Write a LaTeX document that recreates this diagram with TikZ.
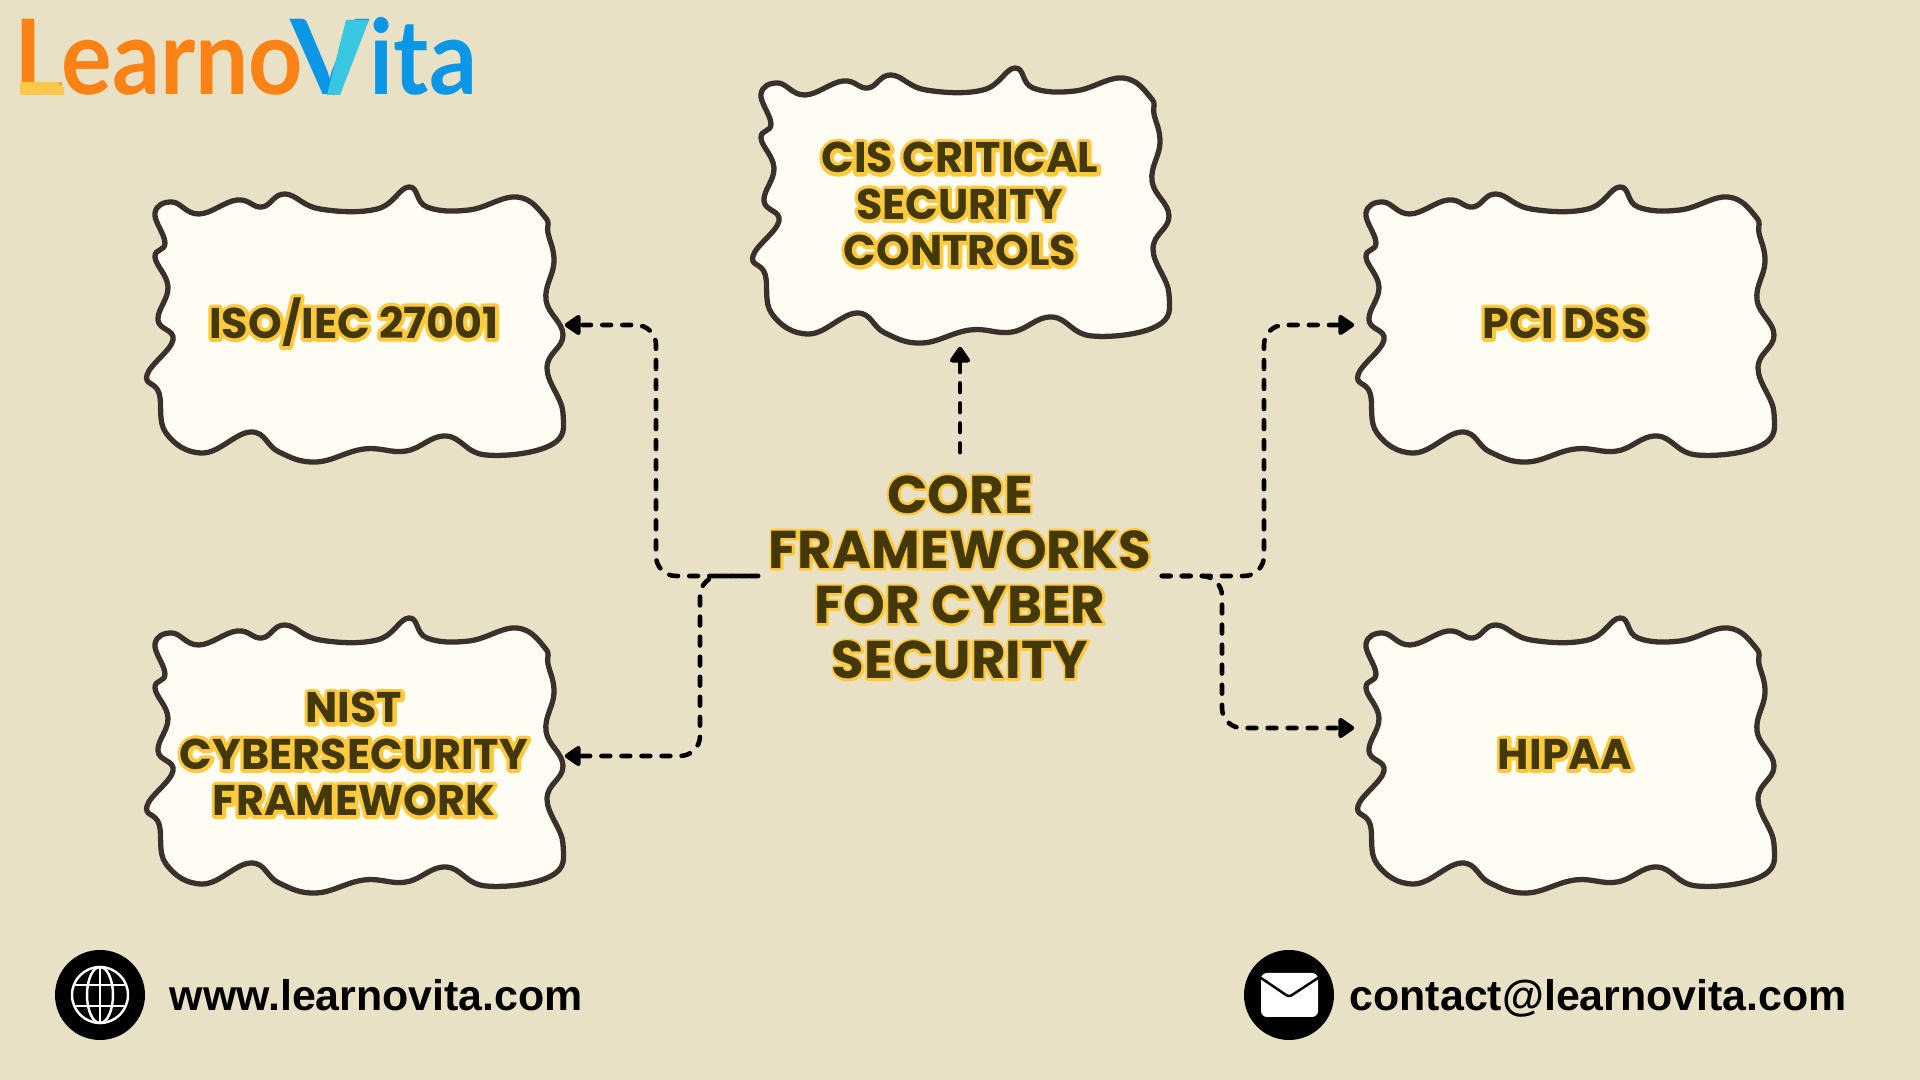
\documentclass[tikz,border=0pt]{standalone}
\usepackage{fontspec}
\usetikzlibrary{arrows.meta}
\setmainfont{Liberation Sans}
\newfontfamily\inkfont{Poppins Bold}
\newfontfamily\haloboxfont{Poppins Bold}[FakeBold=17]
\newfontfamily\halocorefont{Poppins Bold}[FakeBold=9]
\newfontfamily\logofont{Lato Bold}[FakeStretch=0.91]
\definecolor{paper}{HTML}{E8E1C6}
\definecolor{cream}{HTML}{FFFDF3}
\definecolor{edge}{HTML}{3A302C}
\definecolor{ink}{HTML}{433807}
\definecolor{halo}{HTML}{FFC93C}
\definecolor{logoorange}{HTML}{FB8316}
\definecolor{logoblue}{HTML}{0C96E6}
\definecolor{logocyan}{HTML}{38C6E0}
\definecolor{logoyellow}{HTML}{FBC84A}
% two layers of one text: wide yellow under dark
\newcommand{\halotext}[4]{%
  \makebox[0pt]{\special{pdf:code 1 j 1 J}\raisebox{#4}{\smash{#1\color{halo}\begin{tabular}{@{}c@{}}#3\end{tabular}}}}%
  \makebox[0pt]{\raisebox{#4}{\smash{#2\color{ink}\begin{tabular}{@{}c@{}}#3\end{tabular}}}}}
\newcommand{\boxtext}[1]{\fontsize{12.2pt}{13.2pt}\selectfont\halotext{\haloboxfont}{\inkfont}{#1}{-0.68em}}
\newcommand{\coretext}[1]{\fontsize{15.1pt}{15.7pt}\selectfont\halotext{\halocorefont}{\inkfont}{#1}{-0.81em}}
\tikzset{
  blobnode/.style={minimum width=4.2cm,minimum height=2.8cm,inner sep=0pt},
  corenode/.style={minimum width=4.02cm,minimum height=2.46cm,inner sep=0pt},
  link/.style={draw=black,line width=1.3pt,line cap=round,rounded corners=0.2cm,
    dash pattern=on 2.5pt off 3.2pt,-{Triangle[length=5pt,width=6.5pt,round]}},
  webtext/.style={inner sep=0pt,anchor=base west,font=\fontsize{12.2pt}{14pt}\selectfont\bfseries},
  blob/.pic={
    \draw[fill=cream,draw=edge,line width=1.5pt] plot[smooth cycle,tension=0.7] coordinates {
      (-199,-108) (-182,-119) (-155,-107) (-117,-121) (-92,-114) (-69,-127) (-34,-112)
      (23,-112) (55,-134) (73,-114) (115,-111) (163,-124) (191,-104) (194,-88) (200,-59)
      (192,-21) (209,14) (193,47) (209,92) (197,124) (132,134) (92,115) (52,130) (10,128)
      (-38,141) (-75,131) (-103,111) (-151,132) (-188,112) (-195,72) (-207,54) (-181,19)
      (-196,-1) (-186,-34) (-199,-64) (-189,-78)};
  }
}
\begin{document}
\begin{tikzpicture}[x=0.01cm,y=-0.01cm]
\useasboundingbox (0,0) rectangle (1920,1080);
\fill[paper] (0,0) rectangle (1920,1080);
% logo
\node[inner sep=0pt,anchor=base west,font=\logofont\fontsize{29.6pt}{30pt}\selectfont] (logo) at (14,95)
  {\textcolor{logoorange}{Learno}\kern-3.5pt\textcolor{logoblue}{\scalebox{1.2}[1]{V}ita}};
\fill[logoyellow] (20,82) -- (57,82) -- (64,88) -- (64,95) -- (20,95) -- cycle;
\fill[logocyan] (346,20) -- (369,20) -- (340,95) -- (327,95) -- cycle;
% boxes
\foreach \x/\y in {354/321, 960/202, 1565/321, 354/752, 1565/752}
    \pic at (\x,\y) {blob};
\node[blobnode] (iso) at (354,325) {\boxtext{ISO\smash{/}IEC 27001}};
\node[blobnode] (cis) at (960,206) {\boxtext{CIS CRITICAL\\SECURITY\\CONTROLS}};
\node[blobnode] (pci) at (1565,325) {\boxtext{PCI DSS}};
\node[blobnode] (nist) at (354,756) {\boxtext{NIST\\CYBERSECURITY\\FRAMEWORK}};
\node[blobnode] (hipaa) at (1565,756) {\boxtext{HIPAA}};
\node[corenode] (core) at (960,576) {\coretext{CORE\\FRAMEWORKS\\FOR CYBER\\SECURITY}};
% connectors
\coordinate (turnleft) at (656,450);
\coordinate (turnright) at (1264,450);
\coordinate (turnnist) at (700,660);
\coordinate (turnhipaa) at (1222,660);
\draw[link] (core.north) -- (cis.south);
\draw[link] (core.west) -| (turnleft) |- (iso.east);
\draw[link,dash phase=2.85pt] (core.west) -| (turnnist) |- (nist.east);
\draw[link] (core.east) -| (turnright) |- (pci.west);
\draw[link] (core.east) -| (turnhipaa) |- (hipaa.west |- 0,728);
% footer
\fill[black] (100,995) circle (45);
\begin{scope}
\clip (100,995) circle (28);
\draw[white,line width=0.7pt] (72,985) -- (128,985);
\draw[white,line width=0.7pt] (72,1006) -- (128,1006);
\end{scope}
\draw[white,line width=0.7pt] (100,995) circle (28);
\draw[white,line width=0.7pt] (100,995) ellipse (13 and 28);
\draw[white,line width=0.7pt] (100,967) -- (100,1023);
\node[webtext] (web) at (169,1011) {www.learnovita.com};
\fill[black] (1289,995) circle (45);
\fill[white,rounded corners=0.06cm] (1261,973) rectangle (1318,1017);
\draw[black,line width=0.7pt,line cap=round,rounded corners=0.03cm] (1261,978) -- (1289,997) -- (1318,978);
\node[webtext] (mail) at (1349,1011) {contact@learnovita.com};
\end{tikzpicture}
\end{document}
